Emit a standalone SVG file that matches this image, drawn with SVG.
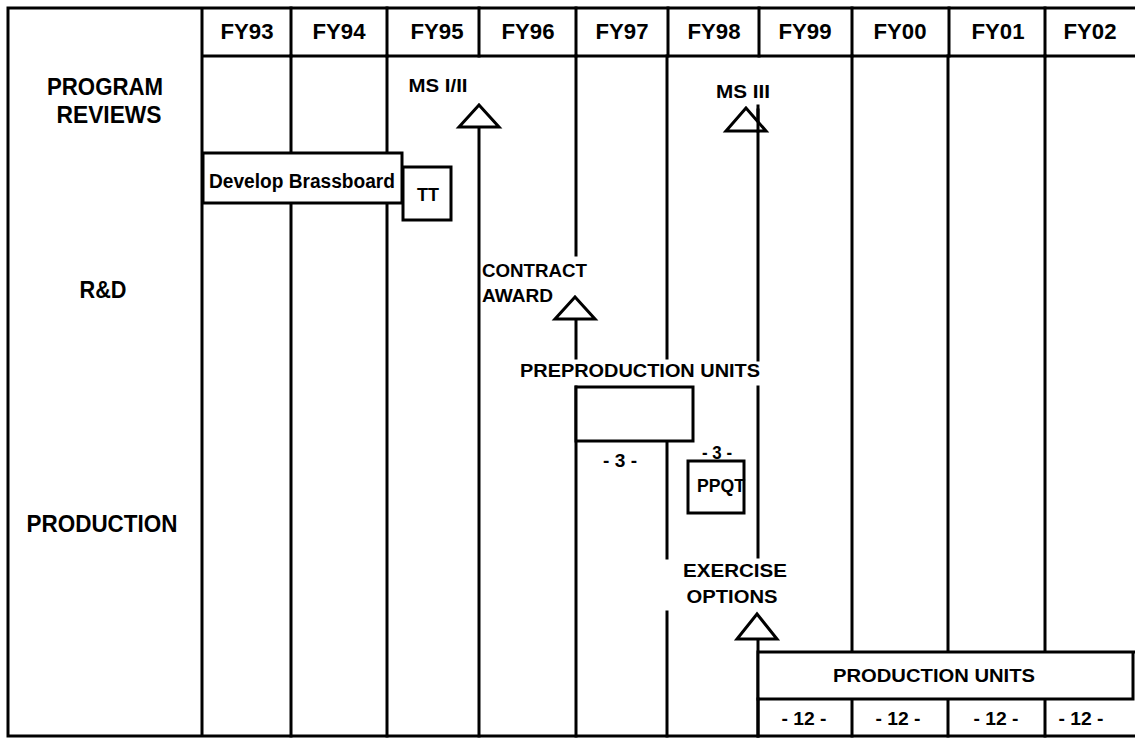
<svg xmlns="http://www.w3.org/2000/svg" width="1135" height="738" viewBox="0 0 1135 738">
<style>
.ln{stroke:#000;stroke-width:3;fill:none;stroke-linecap:square}
.bx{stroke:#000;stroke-width:3;fill:#fff}
.tri{stroke:#000;stroke-width:3;fill:#fff;stroke-linejoin:miter}
text{font-family:"Liberation Sans",Arial,sans-serif;font-weight:bold;fill:#000}
.hd{font-size:22px;text-anchor:middle}
.lb{font-size:23px;text-anchor:middle}
.sm{font-size:19px}
.c{text-anchor:middle}
</style>
<rect width="1135" height="738" fill="#fff"/>
<g id="frame">
<path class="ln" d="M8 8H1135M8 8V736M8 736H1135M202 8V736M202 56H1135"/>
<path class="ln" d="M291 8V56M387 8V56M479 8V56M576 8V56M668 8V56M759 8V56M852 8V56M949 8V56M1045 8V56"/>
</g>
<g id="headers">
<text class="hd" x="247" y="39" textLength="53" lengthAdjust="spacingAndGlyphs">FY93</text>
<text class="hd" x="339" y="39" textLength="53" lengthAdjust="spacingAndGlyphs">FY94</text>
<text class="hd" x="437" y="39" textLength="53" lengthAdjust="spacingAndGlyphs">FY95</text>
<text class="hd" x="528" y="39" textLength="53" lengthAdjust="spacingAndGlyphs">FY96</text>
<text class="hd" x="622" y="39" textLength="53" lengthAdjust="spacingAndGlyphs">FY97</text>
<text class="hd" x="714" y="39" textLength="53" lengthAdjust="spacingAndGlyphs">FY98</text>
<text class="hd" x="805" y="39" textLength="53" lengthAdjust="spacingAndGlyphs">FY99</text>
<text class="hd" x="900" y="39" textLength="53" lengthAdjust="spacingAndGlyphs">FY00</text>
<text class="hd" x="998" y="39" textLength="53" lengthAdjust="spacingAndGlyphs">FY01</text>
<text class="hd" x="1090" y="39" textLength="53" lengthAdjust="spacingAndGlyphs">FY02</text>
</g>
<g id="row-labels">
<text class="lb" x="105" y="95" textLength="116" lengthAdjust="spacingAndGlyphs">PROGRAM</text>
<text class="lb" x="109" y="123" textLength="105" lengthAdjust="spacingAndGlyphs">REVIEWS</text>
<text class="lb" x="103" y="298" textLength="47" lengthAdjust="spacingAndGlyphs">R&amp;D</text>
<text class="lb" x="102" y="532" textLength="151" lengthAdjust="spacingAndGlyphs">PRODUCTION</text>
</g>
<g id="connectors">
<path class="ln" d="M291 56V153M291 203V736M387 56V153M387 203V736"/>
<path class="ln" d="M479 127V736"/>
<path class="ln" d="M576 56V255M576 319V358M576 387V736"/>
<path class="ln" d="M667 56V358M667 441V558M667 612V736"/>
<path class="ln" d="M758 106V360M758 387V557M758 639V736"/>
<path class="ln" d="M852 56V652M852 699V736M948 56V652M948 699V736M1045 56V652M1045 699V736"/>
</g>
<g id="develop-brassboard">
<rect class="bx" x="203" y="153" width="199" height="50"/>
<text class="c" x="302" y="188" font-size="20" textLength="186" lengthAdjust="spacingAndGlyphs">Develop Brassboard</text>
</g>
<g id="tt">
<rect class="bx" x="403" y="167" width="48" height="53"/>
<text class="c" x="428" y="201" font-size="19" textLength="22" lengthAdjust="spacingAndGlyphs">TT</text>
</g>
<g id="ms-1-2">
<text class="sm c" x="438" y="92" textLength="59" lengthAdjust="spacingAndGlyphs">MS I/II</text>
<polygon class="tri" points="479,105 459,127 499,127"/>
</g>
<g id="ms-3">
<text class="sm c" x="743" y="98" textLength="54" lengthAdjust="spacingAndGlyphs">MS III</text>
<polygon class="tri" points="746,108 726,131 766,131"/>
<path class="ln" d="M758 110V131"/>
</g>
<g id="contract-award">
<text class="sm" x="482" y="277" textLength="105" lengthAdjust="spacingAndGlyphs">CONTRACT</text>
<text class="sm" x="482" y="302" textLength="71" lengthAdjust="spacingAndGlyphs">AWARD</text>
<polygon class="tri" points="575,297 555,319 595,319"/>
</g>
<g id="preproduction-units">
<text class="sm" x="520" y="377" textLength="240" lengthAdjust="spacingAndGlyphs">PREPRODUCTION UNITS</text>
<rect class="bx" x="576" y="387" width="117" height="54"/>
<text class="sm c" x="620" y="467" textLength="34" lengthAdjust="spacingAndGlyphs">- 3 -</text>
</g>
<g id="ppqt">
<text class="sm c" x="717" y="459" textLength="30" lengthAdjust="spacingAndGlyphs">- 3 -</text>
<rect class="bx" x="688" y="461" width="56" height="52"/>
<text class="sm" x="697" y="492" textLength="48" lengthAdjust="spacingAndGlyphs">PPQT</text>
</g>
<g id="exercise-options">
<text class="sm c" x="735" y="577" textLength="104" lengthAdjust="spacingAndGlyphs">EXERCISE</text>
<text class="sm c" x="732" y="603" textLength="91" lengthAdjust="spacingAndGlyphs">OPTIONS</text>
<polygon class="tri" points="757,614 737,639 777,639"/>
</g>
<g id="production-units">
<path class="bx" d="M1135 652H758V699H1133V652"/>
<path class="ln" d="M758 699V736"/>
<text class="sm c" x="934" y="682" textLength="202" lengthAdjust="spacingAndGlyphs">PRODUCTION UNITS</text>
<text class="sm c" x="804" y="725" textLength="45" lengthAdjust="spacingAndGlyphs">- 12 -</text>
<text class="sm c" x="898" y="725" textLength="45" lengthAdjust="spacingAndGlyphs">- 12 -</text>
<text class="sm c" x="996" y="725" textLength="45" lengthAdjust="spacingAndGlyphs">- 12 -</text>
<text class="sm c" x="1081" y="725" textLength="45" lengthAdjust="spacingAndGlyphs">- 12 -</text>
</g>
</svg>
